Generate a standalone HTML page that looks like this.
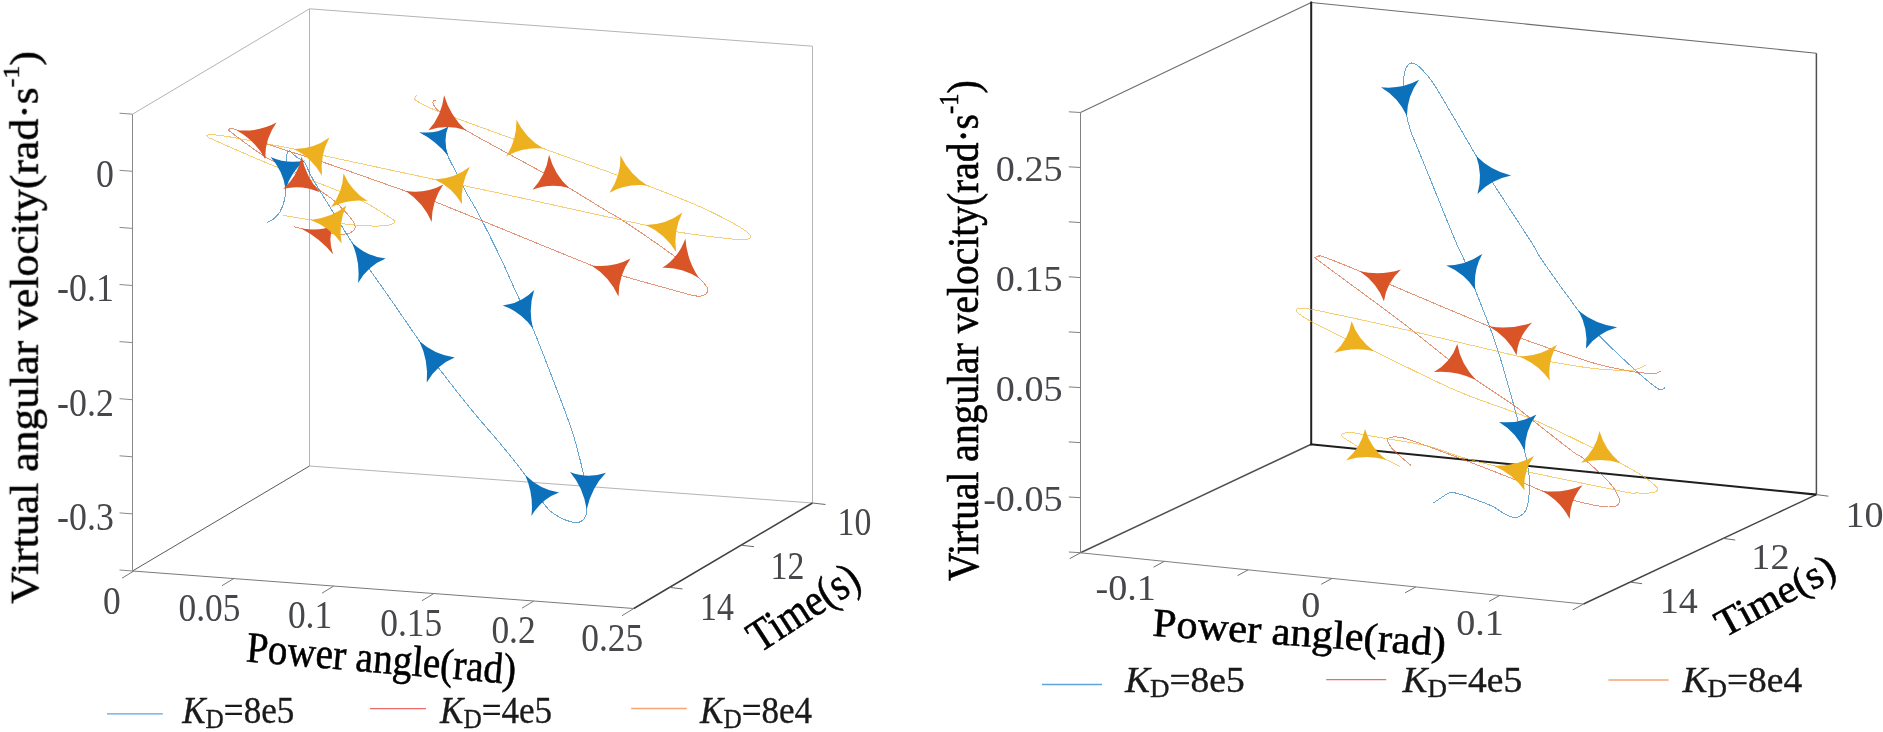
<!DOCTYPE html>
<html lang="en"><head><meta charset="utf-8"><title>Phase trajectories</title>
<style>
html,body{margin:0;padding:0;background:#fff}
body{width:1883px;height:732px;overflow:hidden}
svg{display:block}
text{font-family:"Liberation Serif","Times New Roman",Times,serif}
</style></head><body>
<svg width="1883" height="732" viewBox="0 0 1883 732">
<defs><filter id="g" filterUnits="userSpaceOnUse" x="0" y="0" width="1883" height="732"><feOffset dx="0" dy="0"/></filter></defs>
<rect width="1883" height="732" fill="#fff"/>
<g id="left-plot">
<line x1="309.5" y1="8.8" x2="309.5" y2="466" stroke="#b4b4b4" stroke-width="1"/>
<line x1="132.5" y1="114.2" x2="309.5" y2="8.8" stroke="#b4b4b4" stroke-width="1"/>
<line x1="309.5" y1="8.8" x2="812.5" y2="46.2" stroke="#b4b4b4" stroke-width="1"/>
<line x1="812.5" y1="46.2" x2="812.5" y2="503" stroke="#b4b4b4" stroke-width="1"/>
<line x1="309.5" y1="466" x2="812.5" y2="503" stroke="#b4b4b4" stroke-width="1"/>
<line x1="309.5" y1="466" x2="132.5" y2="571" stroke="#5a5a5a" stroke-width="1"/>
<line x1="132.5" y1="114.2" x2="132.5" y2="571" stroke="#8a8a8a" stroke-width="1"/>
<line x1="132.5" y1="571" x2="633.8" y2="608.5" stroke="#7a7a7a" stroke-width="1"/>
<line x1="633.8" y1="608.5" x2="812.5" y2="503" stroke="#404040" stroke-width="1.6"/>
<line x1="119.5" y1="113.2" x2="132.5" y2="114.2" stroke="#8a8a8a" stroke-width="1"/>
<line x1="119.5" y1="170.3" x2="132.5" y2="171.3" stroke="#8a8a8a" stroke-width="1"/>
<line x1="119.5" y1="227.4" x2="132.5" y2="228.4" stroke="#8a8a8a" stroke-width="1"/>
<line x1="119.5" y1="284.5" x2="132.5" y2="285.5" stroke="#8a8a8a" stroke-width="1"/>
<line x1="119.5" y1="341.6" x2="132.5" y2="342.6" stroke="#8a8a8a" stroke-width="1"/>
<line x1="119.5" y1="398.7" x2="132.5" y2="399.7" stroke="#8a8a8a" stroke-width="1"/>
<line x1="119.5" y1="455.8" x2="132.5" y2="456.8" stroke="#8a8a8a" stroke-width="1"/>
<line x1="119.5" y1="512.9" x2="132.5" y2="513.9" stroke="#8a8a8a" stroke-width="1"/>
<line x1="119.5" y1="570" x2="132.5" y2="571" stroke="#8a8a8a" stroke-width="1"/>
<line x1="133.8" y1="571" x2="122" y2="578.2" stroke="#7a7a7a" stroke-width="1"/>
<line x1="233.8" y1="578.5" x2="222" y2="585.7" stroke="#7a7a7a" stroke-width="1"/>
<line x1="333.8" y1="586" x2="322" y2="593.2" stroke="#7a7a7a" stroke-width="1"/>
<line x1="433.8" y1="593.5" x2="422" y2="600.7" stroke="#7a7a7a" stroke-width="1"/>
<line x1="533.8" y1="601" x2="522" y2="608.2" stroke="#7a7a7a" stroke-width="1"/>
<line x1="633.8" y1="608.5" x2="622" y2="615.7" stroke="#7a7a7a" stroke-width="1"/>
<line x1="812.5" y1="503" x2="825.5" y2="504.5" stroke="#6a6a6a" stroke-width="1"/>
<line x1="741" y1="545.2" x2="754" y2="546.7" stroke="#6a6a6a" stroke-width="1"/>
<line x1="669.5" y1="587.4" x2="682.5" y2="588.9" stroke="#6a6a6a" stroke-width="1"/>
<path d="M266.7 222.5C267.8 221.9 271.1 221 273.3 219.2C275.5 217.4 278.1 214.9 280 211.7C281.9 208.5 283.5 203.9 284.5 200C285.5 196.1 285.6 193.3 285.8 188.3C286 183.3 285.7 175.1 285.8 170C285.9 164.9 286.2 161 286.5 158C286.8 155 286.9 153.2 287.5 152C288.1 150.8 289.1 150.7 290 151C290.9 151.3 291.7 152.8 293 154C294.3 155.2 296.1 156.7 298 158C299.9 159.3 301.6 158.3 304.2 162C306.8 165.7 308.5 171.7 313.3 180C318.1 188.3 326.5 201.4 333 212C339.5 222.6 346.6 234.1 352.5 243.3C358.4 252.6 361.6 257.7 368.3 267.5C375 277.3 383.9 289.6 392.5 302C401.1 314.4 412.4 331.1 420 342C427.6 352.9 429.4 355.8 438.3 367.5C447.2 379.2 463 399.4 473.3 412C483.6 424.6 491.2 432.7 500 443.3C508.8 453.9 518.7 466.1 525.8 475.8C532.9 485.5 538.5 495.9 542.5 501.7C546.5 507.5 546.8 508 550 510.8C553.2 513.6 558.3 516.6 562 518.5C565.7 520.4 569.2 521.4 572 522C574.8 522.6 576.8 522.8 578.8 522.3C580.8 521.8 582.7 520.5 584 519C585.3 517.5 586 515.3 586.5 513.5C587 511.7 586.9 512.2 586.7 508.3C586.5 504.4 586.1 495.8 585.5 490C584.9 484.2 584.7 480.3 583.3 473.3C581.9 466.3 578.9 455.2 577 448C575.1 440.8 574.4 438 571.7 430C569 422 567.3 417.1 560.8 400C554.3 382.9 540.1 345.8 532.5 327.5C524.9 309.2 520.4 301.8 515 290C509.6 278.2 506.2 269.7 500 256.7C493.8 243.7 483.1 222.6 477.5 212C471.9 201.4 470.2 199.8 466.7 193.3C463.2 186.9 459.9 179.7 456.7 173.3C453.5 166.9 449.6 160.6 447.5 155C445.4 149.4 444.6 142.5 444 140" fill="none" stroke="#0c71ba" stroke-width="1" stroke-opacity="0.62" shape-rendering="crispEdges"/>
<path d="M435.8 101C435.5 100.8 434.7 99.9 434.2 100C433.7 100.1 433.1 101 433 101.7C432.9 102.4 432.7 103 433.3 104.2C433.9 105.5 435.6 108 436.7 109.2C437.8 110.5 438.4 110.6 440 111.7C441.6 112.8 441.8 113 446 116C450.2 119 456 124.2 465 129.7C474 135.2 491.9 144.7 500 149.2C508.1 153.7 506.4 152.7 513.8 156.7C521.2 160.7 535.1 168.2 544.2 173.3C553.3 178.4 557.6 181.1 568.3 187.5C579 193.9 599.1 206.4 608.3 212C617.5 217.6 612.2 213.4 623.3 220.8C634.4 228.2 662.5 247.2 675 256.7C687.5 266.1 693 272.5 698.3 277.5C703.6 282.5 705.2 284.3 706.7 286.7C708.2 289.1 707.9 290.3 707.5 291.7C707.1 293.1 706.3 294.3 704.2 295C702.1 295.7 701.2 296.9 695 295.8C688.8 294.7 679.1 291.7 666.7 288.3C654.3 284.9 633.2 279.1 620.8 275.3C608.4 271.6 612.6 273.7 592.5 265.8C572.4 257.9 526.2 238.7 500 228C473.8 217.3 450.6 207.8 435 201.7C419.4 195.6 416.8 195.1 406.7 191.5C396.6 187.9 388.4 185 374.2 180C360 175 339.9 167.8 321.7 161.7C303.5 155.6 278.9 148.5 265 143.3C251.1 138.1 244 132.9 238.3 130.5C232.6 128.1 232.5 128.9 231 128.8C229.5 128.7 229 129 229.2 129.7C229.4 130.4 226 128.5 232 133C238 137.5 253.7 149.7 265 156.7C276.3 163.7 291 169.4 300 175C309 180.6 313.6 185.8 319.2 190C324.8 194.2 328.7 196.1 333.3 200C337.9 203.9 343.4 209.7 346.7 213.3C350 216.9 351.9 219.2 353.3 221.7C354.7 224.2 355.6 226.4 355 228.3C354.4 230.2 352.5 232 350 233C347.5 234 345 234.4 340 234.2C335 234 326.4 232.9 320 232C313.6 231.1 306 229.6 301.7 228.7C297.4 227.8 295.4 227 294.2 226.7" fill="none" stroke="#d95427" stroke-width="1" stroke-opacity="0.62" shape-rendering="crispEdges"/>
<path d="M416.7 95.3C416.4 95.7 415 96.6 415 97.5C415 98.4 413.1 98.6 416.7 100.8C420.3 103 422.8 105.2 436.7 110.8C450.6 116.4 486.7 129.3 500 134.2C513.3 139.1 509.6 137.7 516.7 140C523.8 142.3 525.4 142.3 542.5 148.3C559.6 154.3 601.8 169.6 619.2 175.8C636.6 182 633.2 180.2 646.7 185.3C660.2 190.5 685.6 200.4 700 206.7C714.4 213 725.5 219.1 733.3 223.3C741.1 227.5 743.8 229.5 746.7 231.7C749.6 233.9 750.5 235.4 750.5 236.7C750.5 237.9 749.6 238.8 746.7 239.2C743.8 239.6 745.1 240.4 733.3 239.2C721.5 237.9 690.2 234 675.8 231.7C661.4 229.4 655.7 227.2 646.7 225.3C637.7 223.4 646.2 225.3 621.7 220C597.2 214.7 531 200 500 193.3C469 186.6 464.4 185.8 435.8 179.7C407.2 173.6 352.2 161.8 328.7 156.7C305.2 151.6 310.9 152.4 295 149.2C279.1 146 246.6 139.9 233.3 137.5C220 135.1 219.1 135.4 215 134.9C210.9 134.4 210.4 134.6 209 134.7C207.6 134.8 206.9 135.2 206.8 135.7C206.7 136.1 207.1 136.6 208.5 137.4C209.9 138.2 204.5 135.9 215 140.5C225.5 145.1 251.1 156.6 271.7 165C292.2 173.4 322.5 184.4 338.3 190.8C354.1 197.2 359.2 199.6 366.7 203.3C374.2 207.1 378.7 210.4 383.3 213.3C387.9 216.2 392.8 219 394.2 220.8C395.6 222.6 393.5 223.4 391.7 224.2C389.9 225 387.5 225.5 383.3 225.8C379.1 226.1 373.6 226.2 366.7 225.8C359.8 225.5 350.9 224.7 341.7 223.7C332.5 222.7 321.4 221.4 311.7 220C302 218.6 288 216.1 283.3 215.3" fill="none" stroke="#edb120" stroke-width="1" stroke-opacity="0.62" shape-rendering="crispEdges"/>
<path d="M270.5 156.9Q287.4 164.3 305.1 160.4Q290.8 171.6 285.7 189.3Q283.1 170.8 270.5 156.9Z" fill="#0c71ba"/>
<path d="M419.1 132.2Q436.3 134.2 448.3 126.4Q442.8 139.5 448 155.8Q436.2 140.8 419.1 132.2Z" fill="#0c71ba"/>
<path d="M351.9 242.4Q366.8 256.5 385.7 258.6Q368.2 265.6 358 283Q360.6 262 351.9 242.4Z" fill="#0c71ba"/>
<path d="M502.7 305.4Q521.1 303.3 534.2 289.9Q527.9 308.5 533 328.5Q520.8 312 502.7 305.4Z" fill="#0c71ba"/>
<path d="M419.3 341.1Q435.1 355.3 454.7 357.4Q436.8 364.6 426.7 382.4Q428.8 360.9 419.3 341.1Z" fill="#0c71ba"/>
<path d="M525.2 474.9Q540.1 489.6 559 492.4Q541.5 498.8 531.4 516Q533.9 494.9 525.2 474.9Z" fill="#0c71ba"/>
<path d="M570 471.9Q587.7 479.1 605.9 472.7Q591.4 487.6 586.7 509.5Q583.4 487.4 570 471.9Z" fill="#0c71ba"/>
<path d="M236.4 130.2Q258.1 132.4 276.6 122.6Q264.6 139 265.3 159.3Q255.6 140.7 236.4 130.2Z" fill="#d95427"/>
<path d="M301.7 156.4Q297.6 176.2 283.3 188.8Q301.7 184.3 320.1 192.3Q305.8 177 301.7 156.4Z" fill="#d95427"/>
<path d="M444.1 95.2Q441.7 115.9 428.4 130.3Q446.6 123.8 465.9 130.3Q450.1 115.9 444.1 95.2Z" fill="#d95427"/>
<path d="M405.7 191.1Q425.8 194.1 443.3 184.6Q431.7 201.1 431.7 222.1Q423.2 202.6 405.7 191.1Z" fill="#d95427"/>
<path d="M300.7 228.3Q320.1 231.8 333.8 225.3Q327.4 237.6 333 254.2Q319.9 238.3 300.7 228.3Z" fill="#d95427"/>
<path d="M549.1 154.7Q546 175.1 532.5 189.8Q550.5 182.6 569.2 188Q554.3 174.7 549.1 154.7Z" fill="#d95427"/>
<path d="M685.4 238.4Q678.5 257.7 662.3 267.8Q681.6 266.7 699.1 278.3Q686.8 260.1 685.4 238.4Z" fill="#d95427"/>
<path d="M591.5 265.4Q612.4 268.3 630.5 258.5Q618.5 275.2 618.5 296.4Q609.7 276.8 591.5 265.4Z" fill="#d95427"/>
<path d="M294 149Q313.6 149.2 329.4 137.5Q319.9 155.2 322 175.7Q311.9 157.8 294 149Z" fill="#edb120"/>
<path d="M343.5 173.2Q342.8 192.3 330.9 207.3Q348.2 198.6 367.7 201.1Q351.1 190.9 343.5 173.2Z" fill="#edb120"/>
<path d="M434.8 179.5Q454.1 178.8 469.9 166.7Q460.2 184.4 462 204.3Q452.3 187.3 434.8 179.5Z" fill="#edb120"/>
<path d="M310.6 219.9Q331 218.3 346.4 205.5Q337.9 223.6 341.7 243.5Q329.9 226.9 310.6 219.9Z" fill="#edb120"/>
<path d="M516.4 119.4Q517.1 139.9 505.9 156.5Q523.2 146.5 543.5 148.6Q525.6 138.2 516.4 119.4Z" fill="#edb120"/>
<path d="M620.5 155.6Q621 176.3 609.5 192.7Q627.1 183 647.7 185.7Q629.6 174.7 620.5 155.6Z" fill="#edb120"/>
<path d="M645.6 225.1Q666.2 224.8 682.4 212.5Q673.1 230.9 676.2 251.9Q664.8 233.7 645.6 225.1Z" fill="#edb120"/>
<line x1="107" y1="713.8" x2="162.8" y2="713.8" stroke="#5fa5dc" stroke-width="1.3"/>
<line x1="370" y1="708.7" x2="426" y2="708.7" stroke="#ee6b6b" stroke-width="1.3"/>
<line x1="631.2" y1="708.5" x2="686.8" y2="708.5" stroke="#f4a574" stroke-width="1.3"/>
</g>
<g id="right-plot">
<line x1="1080.5" y1="112.5" x2="1311.2" y2="2.5" stroke="#6e6e6e" stroke-width="1.1"/>
<line x1="1311.2" y1="2.5" x2="1816.4" y2="53.2" stroke="#6e6e6e" stroke-width="1.1"/>
<line x1="1816.4" y1="53.2" x2="1816.4" y2="494.6" stroke="#505050" stroke-width="1.5"/>
<line x1="1311.2" y1="444.2" x2="1080.5" y2="552.8" stroke="#505050" stroke-width="1.5"/>
<line x1="1080.5" y1="112.5" x2="1080.5" y2="552.8" stroke="#808080" stroke-width="1"/>
<line x1="1080.5" y1="552.8" x2="1583.5" y2="604" stroke="#808080" stroke-width="1"/>
<line x1="1583.5" y1="604" x2="1816.4" y2="494.6" stroke="#444" stroke-width="1.4"/>
<line x1="1311.2" y1="1.5" x2="1311.2" y2="445.3" stroke="#222" stroke-width="2"/>
<line x1="1310.3" y1="444.2" x2="1816.4" y2="494.6" stroke="#1e1e1e" stroke-width="2.1"/>
<line x1="1068.8" y1="111.8" x2="1080.5" y2="112.5" stroke="#808080" stroke-width="1"/>
<line x1="1068.8" y1="166.8" x2="1080.5" y2="167.5" stroke="#808080" stroke-width="1"/>
<line x1="1068.8" y1="221.8" x2="1080.5" y2="222.6" stroke="#808080" stroke-width="1"/>
<line x1="1068.8" y1="276.8" x2="1080.5" y2="277.6" stroke="#808080" stroke-width="1"/>
<line x1="1068.8" y1="331.9" x2="1080.5" y2="332.6" stroke="#808080" stroke-width="1"/>
<line x1="1068.8" y1="386.9" x2="1080.5" y2="387.6" stroke="#808080" stroke-width="1"/>
<line x1="1068.8" y1="441.9" x2="1080.5" y2="442.7" stroke="#808080" stroke-width="1"/>
<line x1="1068.8" y1="497" x2="1080.5" y2="497.7" stroke="#808080" stroke-width="1"/>
<line x1="1068.8" y1="552" x2="1080.5" y2="552.7" stroke="#808080" stroke-width="1"/>
<line x1="1080.5" y1="552.8" x2="1069.8" y2="558.6" stroke="#707070" stroke-width="1"/>
<line x1="1164.3" y1="561.3" x2="1153.6" y2="567.2" stroke="#707070" stroke-width="1"/>
<line x1="1248.2" y1="569.8" x2="1237.5" y2="575.7" stroke="#707070" stroke-width="1"/>
<line x1="1332" y1="578.4" x2="1321.3" y2="584.3" stroke="#707070" stroke-width="1"/>
<line x1="1415.8" y1="586.9" x2="1405.1" y2="592.8" stroke="#707070" stroke-width="1"/>
<line x1="1499.7" y1="595.5" x2="1489" y2="601.4" stroke="#707070" stroke-width="1"/>
<line x1="1583.5" y1="604" x2="1572.8" y2="609.9" stroke="#707070" stroke-width="1"/>
<line x1="1816.4" y1="494.6" x2="1828.4" y2="496.2" stroke="#6a6a6a" stroke-width="1"/>
<line x1="1723.2" y1="538.4" x2="1735.2" y2="540" stroke="#6a6a6a" stroke-width="1"/>
<line x1="1630.1" y1="582.1" x2="1642.1" y2="583.7" stroke="#6a6a6a" stroke-width="1"/>
<path d="M1665 387.8C1664.3 388.1 1662.5 389.7 1660.8 389.5C1659.1 389.3 1659.6 390.2 1655 386.7C1650.4 383.2 1642.8 377 1633.3 368.3C1623.8 359.6 1607.3 344.1 1598.3 334.7C1589.3 325.3 1588.4 323.8 1579.2 311.7C1570 299.6 1551.5 273.9 1543.3 262C1535.1 250.1 1538.5 253.2 1530 240C1521.5 226.8 1501.4 196.4 1492.5 182.5C1483.6 168.6 1483.2 167.7 1476.7 156.7C1470.2 145.7 1460.5 128.9 1453.3 116.7C1446.1 104.5 1438.8 91.5 1433.3 83.3C1427.8 75.1 1423.6 70.9 1420 67.5C1416.4 64.1 1413.9 63.1 1411.7 63C1409.5 62.9 1408 64.7 1406.7 66.7C1405.5 68.7 1404.8 71.8 1404.2 75C1403.6 78.2 1402.9 79.1 1403.3 85.8C1403.7 92.5 1405.5 107.6 1406.7 115C1407.9 122.4 1409 125.8 1410.3 130C1411.5 134.2 1412 134.7 1414.2 140C1416.4 145.3 1416.5 145.3 1423.3 162C1430.1 178.7 1448 223.4 1455 240C1462 256.6 1461.7 253.5 1465 261.7C1468.3 269.9 1471.1 278.9 1475 289.2C1478.9 299.5 1484.7 313.7 1488.3 323.3C1491.9 332.9 1493.6 337.2 1496.7 346.7C1499.8 356.1 1503.1 367.4 1506.7 380C1510.3 392.6 1515.4 410.8 1518.3 422.5C1521.2 434.2 1522.8 443.8 1524.2 450C1525.6 456.2 1525.9 455.6 1526.7 460C1527.5 464.4 1528.8 471.1 1529.2 476.7C1529.6 482.2 1529.6 488 1529.2 493.3C1528.8 498.6 1528 504.7 1526.7 508.3C1525.5 511.9 1523.7 513.5 1521.7 515C1519.8 516.5 1517.8 517.6 1515 517.5C1512.2 517.4 1508.6 516 1505 514.2C1501.4 512.4 1498 509.1 1493.3 506.7C1488.6 504.3 1482.2 502.1 1476.7 500C1471.2 497.9 1464.2 495.4 1460 494.2C1455.8 492.9 1453.9 492.5 1451.7 492.5C1449.5 492.5 1449.8 492.4 1446.7 494.2C1443.6 495.9 1435.5 501.5 1433.3 503" fill="none" stroke="#0c71ba" stroke-width="1" stroke-opacity="0.62" shape-rendering="crispEdges"/>
<path d="M1660.8 371.3C1660.1 371.6 1658.5 372.7 1656.7 373C1654.9 373.3 1653.9 373.5 1650 373.3C1646.1 373.1 1643 373.5 1633.3 371.7C1623.6 369.9 1610.5 368.1 1591.7 362.5C1573 356.9 1537.8 344.3 1520.8 338.3C1503.8 332.3 1511.9 335.7 1490 326.7C1468.1 317.7 1410.7 293.4 1389.2 284.2C1367.7 275 1371.8 276.3 1360.8 271.7C1349.8 267.1 1330.3 259.3 1323.3 256.7C1316.3 254.1 1320.1 256.3 1319 256.3C1317.9 256.3 1317 256.4 1316.5 256.6C1316 256.8 1315.7 257.1 1315.8 257.6C1315.9 258.1 1316.3 258.7 1317 259.4C1317.7 260.1 1309 253.5 1320 261.7C1331 269.9 1368.8 297.6 1383.3 308.3C1397.8 319 1395.9 317.5 1406.7 326C1417.5 334.5 1436.9 350.3 1448.3 359.2C1459.7 368.1 1464.2 371.6 1475 379.2C1485.8 386.8 1503.6 398.1 1513.3 405C1523 411.9 1523.3 413 1533.3 420.8C1543.3 428.6 1565 445.8 1573.3 452C1581.6 458.2 1577.2 453.1 1583.3 458.3C1589.4 463.5 1604.2 476.9 1610 483.3C1615.8 489.7 1616.7 493.6 1618.3 496.7C1619.9 499.8 1619.8 500.2 1619.5 501.7C1619.2 503.2 1618.6 504.9 1616.7 505.8C1614.8 506.7 1612.2 507.1 1608.3 507C1604.4 506.9 1599.3 506.2 1593.3 505C1587.3 503.8 1580.8 502.3 1572.5 500C1564.2 497.7 1551.3 494.1 1543.3 491.3C1535.2 488.5 1538.1 488.8 1524.2 483.3C1510.3 477.8 1479 465.5 1460 458.3C1441 451.1 1420.5 443.6 1410 440C1399.5 436.4 1400 437.4 1396.7 437C1393.4 436.6 1391.5 437.1 1390 437.5C1388.5 437.9 1387.8 438.5 1387.5 439.2C1387.2 439.9 1387 439.9 1388 441.7C1389 443.5 1389.5 446.1 1393.3 450C1397.1 453.9 1407.9 462.8 1410.8 465.3" fill="none" stroke="#d95427" stroke-width="1" stroke-opacity="0.62" shape-rendering="crispEdges"/>
<path d="M1645.8 365C1644.3 365.7 1640.2 368.3 1636.7 369.2C1633.2 370.1 1632.5 370.6 1625 370.5C1617.5 370.4 1604.2 369.8 1591.7 368.3C1579.2 366.8 1562 363.6 1550 361.7C1538 359.8 1543.9 362 1520 356.7C1496.1 351.4 1439.5 337.5 1406.7 330C1373.9 322.5 1340.5 315.3 1323.3 311.7C1306.1 308.1 1307.6 309 1303.3 308.5C1299 308 1298.7 308.5 1297.5 308.8C1296.3 309.1 1296.2 309.6 1296.3 310.3C1296.4 311 1295.7 311.2 1298 313C1300.3 314.8 1302.2 316.6 1310 320.8C1317.8 325 1334.5 333.3 1345 338.3C1355.5 343.3 1354.7 342.1 1373.3 350.8C1391.9 359.6 1430.6 379.6 1456.7 390.8C1482.8 402.1 1507.2 408.7 1530 418.3C1552.8 427.9 1578.3 440.9 1593.3 448.3C1608.2 455.7 1611.3 458 1619.7 462.7C1628.1 467.4 1637.5 472.5 1643.6 476.5C1649.7 480.5 1653.9 484.3 1656.2 486.6C1658.5 488.9 1658.2 489.2 1657.4 490.3C1656.6 491.4 1654.7 492.5 1651.1 492.9C1647.5 493.3 1640.5 493.1 1636 492.9C1631.5 492.7 1642 495.2 1623.8 491.7C1605.6 488.2 1548.3 476 1526.7 471.7C1505.1 467.4 1505.3 468.3 1494.2 465.8C1483.1 463.3 1471.2 460 1460 456.7C1448.8 453.4 1442.5 449.4 1426.7 445.8C1410.9 442.2 1377.2 437.2 1365 435C1352.8 432.8 1356.9 433.1 1353.3 432.8C1349.7 432.5 1345.2 432.9 1343.3 433.3C1341.4 433.7 1342.1 434.4 1342 435C1341.9 435.6 1341.2 435.6 1342.5 436.7C1343.8 437.8 1347.1 439.9 1350 441.7C1352.9 443.5 1354.2 444.6 1360 447.5C1365.8 450.4 1378.3 456 1385 459.2C1391.7 462.4 1397.5 465.4 1400 466.7" fill="none" stroke="#edb120" stroke-width="1" stroke-opacity="0.62" shape-rendering="crispEdges"/>
<path d="M1381 87.2Q1401.3 89.5 1419.1 79.8Q1407.1 95.9 1406.9 116Q1398.6 97.6 1381 87.2Z" fill="#0c71ba"/>
<path d="M1476.1 155.8Q1490.7 170.8 1511.1 175.5Q1491 179.4 1477.5 193.9Q1483.1 175 1476.1 155.8Z" fill="#0c71ba"/>
<path d="M1446.2 265.6Q1466.3 265.3 1482.4 253.7Q1472.9 270.8 1475.4 290.2Q1464.7 273.5 1446.2 265.6Z" fill="#0c71ba"/>
<path d="M1578.5 310.8Q1595.6 324.5 1617.1 327.3Q1597.3 333 1586 348.6Q1588.6 329.3 1578.5 310.8Z" fill="#0c71ba"/>
<path d="M1499 421.9Q1519 424.2 1536.4 414.6Q1524.8 430.8 1524.8 451Q1516.4 432.4 1499 421.9Z" fill="#0c71ba"/>
<path d="M1359.8 271.3Q1381 276 1400.9 269.5Q1386.4 282.8 1383.9 301.3Q1377.2 283.2 1359.8 271.3Z" fill="#d95427"/>
<path d="M1488.9 326.3Q1511.6 330 1532.2 322.4Q1517.9 336.5 1516.5 355.2Q1508.1 337.4 1488.9 326.3Z" fill="#d95427"/>
<path d="M1457.3 344Q1451.2 362 1434 372Q1455.4 370.1 1476 379.9Q1460.6 363.8 1457.3 344Z" fill="#d95427"/>
<path d="M1542.2 490.9Q1563.7 493.7 1582.5 485.2Q1569.9 500 1569.7 519Q1560.8 501.3 1542.2 490.9Z" fill="#d95427"/>
<path d="M1351.6 321.2Q1348.6 339.7 1334.1 353Q1353.7 346.5 1374.3 351.2Q1357.7 339.3 1351.6 321.2Z" fill="#edb120"/>
<path d="M1518.9 356.5Q1540.1 356.1 1557 344.7Q1547.1 361.6 1549.9 380.7Q1538.5 364.2 1518.9 356.5Z" fill="#edb120"/>
<path d="M1365 429Q1361.1 447.4 1346.1 460.2Q1365.8 454.3 1386 459.7Q1370.1 447.3 1365 429Z" fill="#edb120"/>
<path d="M1599.5 431Q1595.8 449.9 1581.1 462.8Q1600.6 457.1 1620.7 463.2Q1604.7 450 1599.5 431Z" fill="#edb120"/>
<path d="M1493 465.6Q1515.6 466.3 1534.1 456Q1522.7 471.9 1524.5 490.6Q1513.4 474 1493 465.6Z" fill="#edb120"/>
<line x1="1042" y1="684.5" x2="1102" y2="684.5" stroke="#5fa5dc" stroke-width="1.3"/>
<line x1="1326.2" y1="679.7" x2="1386.2" y2="679.7" stroke="#ee6b6b" stroke-width="1.3"/>
<line x1="1608.4" y1="680" x2="1668.7" y2="680" stroke="#f4a574" stroke-width="1.3"/>
</g>
<g id="labels" filter="url(#g)">
<text transform="translate(113.8 187.1) scale(0.885 1.0)" font-size="40.5" fill="#45474a" text-anchor="end">0</text>
<text transform="translate(113.8 301.3) scale(0.885 1.0)" font-size="40.5" fill="#45474a" text-anchor="end">-0.1</text>
<text transform="translate(113.8 415.5) scale(0.885 1.0)" font-size="40.5" fill="#45474a" text-anchor="end">-0.2</text>
<text transform="translate(113.8 529.7) scale(0.885 1.0)" font-size="40.5" fill="#45474a" text-anchor="end">-0.3</text>
<text transform="translate(111.9 613.6) scale(0.868 1.0)" font-size="40.8" fill="#45474a" text-anchor="middle">0</text>
<text transform="translate(209.4 620.8) scale(0.868 1.0)" font-size="40.8" fill="#45474a" text-anchor="middle">0.05</text>
<text transform="translate(310 628.2) scale(0.868 1.0)" font-size="40.8" fill="#45474a" text-anchor="middle">0.1</text>
<text transform="translate(411.2 635.8) scale(0.868 1.0)" font-size="40.8" fill="#45474a" text-anchor="middle">0.15</text>
<text transform="translate(513.5 643.2) scale(0.868 1.0)" font-size="40.8" fill="#45474a" text-anchor="middle">0.2</text>
<text transform="translate(612.2 650.8) scale(0.868 1.0)" font-size="40.8" fill="#45474a" text-anchor="middle">0.25</text>
<text transform="translate(854.4 534.5) scale(0.845 1.0)" font-size="40" fill="#45474a" text-anchor="middle">10</text>
<text transform="translate(787.4 578.8) scale(0.845 1.0)" font-size="40" fill="#45474a" text-anchor="middle">12</text>
<text transform="translate(716.9 620.4) scale(0.845 1.0)" font-size="40" fill="#45474a" text-anchor="middle">14</text>
<text transform="translate(245.4 661.5) rotate(4.8) scale(0.9 1.0)" font-size="43.5" fill="#000" text-anchor="start" stroke="#000" stroke-width="0.55">Power angle(rad)</text>
<text transform="translate(759.5 653.5) rotate(-33) scale(0.87 1.0)" font-size="45.5" fill="#000" text-anchor="start" stroke="#000" stroke-width="0.55">Time(s)</text>
<text transform="translate(37.5 603.8) rotate(-90) scale(1.0 0.925)" font-size="43.7" fill="#000" text-anchor="start" stroke="#000" stroke-width="0.55">Virtual angular velocity(rad·s<tspan font-size="26" dy="-20.6">-1</tspan><tspan dy="20.6">)</tspan></text>
<text transform="translate(182.2 723.2) scale(0.9 1.0)" font-size="39" fill="#1a1a1a" text-anchor="start" stroke="#1a1a1a" stroke-width="0.35"><tspan font-style="italic">K</tspan><tspan font-size="28.1" dy="5.1">D</tspan><tspan dy="-5.1">=8e5</tspan></text>
<text transform="translate(440 723.2) scale(0.9 1.0)" font-size="39" fill="#1a1a1a" text-anchor="start" stroke="#1a1a1a" stroke-width="0.35"><tspan font-style="italic">K</tspan><tspan font-size="28.1" dy="5.1">D</tspan><tspan dy="-5.1">=4e5</tspan></text>
<text transform="translate(700 723.2) scale(0.9 1.0)" font-size="39" fill="#1a1a1a" text-anchor="start" stroke="#1a1a1a" stroke-width="0.35"><tspan font-style="italic">K</tspan><tspan font-size="28.1" dy="5.1">D</tspan><tspan dy="-5.1">=8e4</tspan></text>
<text transform="translate(1062.5 180.8) scale(1.044 1.0)" font-size="36.5" fill="#45474a" text-anchor="end">0.25</text>
<text transform="translate(1062.5 290.8) scale(1.044 1.0)" font-size="36.5" fill="#45474a" text-anchor="end">0.15</text>
<text transform="translate(1062.5 400.9) scale(1.044 1.0)" font-size="36.5" fill="#45474a" text-anchor="end">0.05</text>
<text transform="translate(1062.5 511) scale(1.044 1.0)" font-size="36.5" fill="#45474a" text-anchor="end">-0.05</text>
<text transform="translate(1125.6 600) scale(1.044 1.0)" font-size="36.5" fill="#45474a" text-anchor="middle">-0.1</text>
<text transform="translate(1310.8 617) scale(1.044 1.0)" font-size="36.5" fill="#45474a" text-anchor="middle">0</text>
<text transform="translate(1480 635.2) scale(1.044 1.0)" font-size="36.5" fill="#45474a" text-anchor="middle">0.1</text>
<text transform="translate(1864.5 526.5) scale(1.044 1.0)" font-size="36.5" fill="#45474a" text-anchor="middle">10</text>
<text transform="translate(1770.4 568.7) scale(1.044 1.0)" font-size="36.5" fill="#45474a" text-anchor="middle">12</text>
<text transform="translate(1678.8 613) scale(1.044 1.0)" font-size="36.5" fill="#45474a" text-anchor="middle">14</text>
<text transform="translate(1152.1 635.7) rotate(3.95) scale(1.06 1.0)" font-size="40.1" fill="#000" text-anchor="start" stroke="#000" stroke-width="0.55">Power angle(rad)</text>
<text transform="translate(1724.1 638.3) rotate(-28.5) scale(1.05 1.0)" font-size="39.7" fill="#000" text-anchor="start" stroke="#000" stroke-width="0.55">Time(s)</text>
<text transform="translate(977.5 581) rotate(-90) scale(1.0 1.1)" font-size="39.5" fill="#000" text-anchor="start" stroke="#000" stroke-width="0.55">Virtual angular velocity(rad·s<tspan font-size="24.5" dy="-18">-1</tspan><tspan dy="18">)</tspan></text>
<text transform="translate(1125 692.2) scale(1.07 1.0)" font-size="35" fill="#1a1a1a" text-anchor="start" stroke="#1a1a1a" stroke-width="0.35"><tspan font-style="italic">K</tspan><tspan font-size="25.2" dy="4.5">D</tspan><tspan dy="-4.5">=8e5</tspan></text>
<text transform="translate(1402.5 692.2) scale(1.07 1.0)" font-size="35" fill="#1a1a1a" text-anchor="start" stroke="#1a1a1a" stroke-width="0.35"><tspan font-style="italic">K</tspan><tspan font-size="25.2" dy="4.5">D</tspan><tspan dy="-4.5">=4e5</tspan></text>
<text transform="translate(1682.5 692.2) scale(1.07 1.0)" font-size="35" fill="#1a1a1a" text-anchor="start" stroke="#1a1a1a" stroke-width="0.35"><tspan font-style="italic">K</tspan><tspan font-size="25.2" dy="4.5">D</tspan><tspan dy="-4.5">=8e4</tspan></text>
</g>
</svg>
</body></html>
